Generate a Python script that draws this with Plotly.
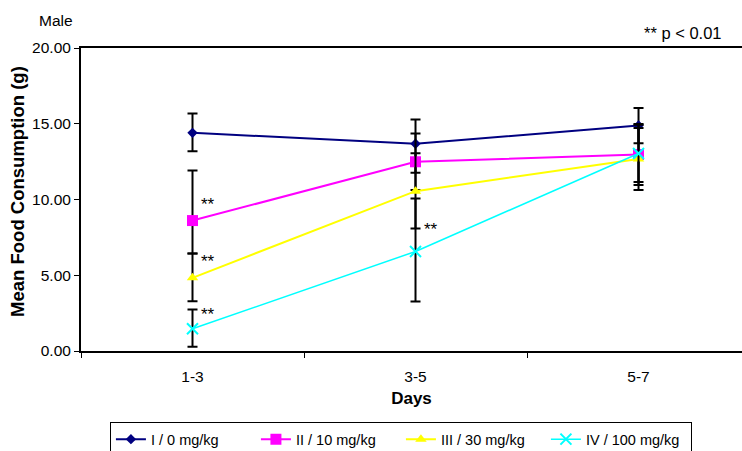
import plotly.graph_objects as go

days = ["1-3", "3-5", "5-7"]
series_names = ["I / 0 mg/kg", "II / 10 mg/kg", "III / 30 mg/kg", "IV / 100 mg/kg"]
g1_mean = [14.40, 13.68, 14.88]
g2_mean = [8.61, 12.49, 12.97]
g3_mean = [4.83, 10.55, 12.67]
g4_mean = [1.47, 6.57, 13.04]
g1_plus = [1.27, 1.60, 1.16]
g1_minus = [1.21, 1.91, 1.16]
g2_plus = [3.30, 1.87, 2.01]
g2_minus = [2.18, 1.87, 2.01]
g3_plus = [1.60, 2.51, 2.05]
g3_minus = [1.55, 2.46, 2.05]
g4_plus = [1.27, 3.50, 1.89]
g4_minus = [1.19, 3.30, 1.89]
sig_marks = [("1-3", 9.80), ("1-3", 6.04), ("1-3", 2.54), ("3-5", 8.15)]
y_ticks = [0, 5, 10, 15, 20]

FONT = "Arial, Liberation Sans, sans-serif"

styles = [
    dict(color="#000080", symbol="diamond", size=8, lw=2),
    dict(color="#FF00FF", symbol="square", size=11, lw=2),
    dict(color="#FFFF00", symbol="triangle-up", size=10, lw=2),
    dict(color="#00FFFF", symbol="x-thin", size=11, lw=1.5),
]
means = [g1_mean, g2_mean, g3_mean, g4_mean]
pluses = [g1_plus, g2_plus, g3_plus, g4_plus]
minuses = [g1_minus, g2_minus, g3_minus, g4_minus]

fig = go.Figure()
for name, m, p, mi, st in zip(series_names, means, pluses, minuses, styles):
    marker = dict(symbol=st["symbol"], size=st["size"], color=st["color"])
    if st["symbol"] == "x-thin":
        marker["line"] = dict(color=st["color"], width=2)
    fig.add_trace(go.Scatter(
        x=days, y=m, name=name, mode="lines+markers",
        line=dict(color=st["color"], width=st["lw"]),
        marker=marker,
        error_y=dict(type="data", symmetric=False, array=p, arrayminus=mi,
                     color="black", thickness=2, width=5),
    ))

for cat, yv in sig_marks:
    fig.add_annotation(x=cat, y=yv, text="**", showarrow=False, xanchor="left",
                       xshift=6, yshift=-2, font=dict(family=FONT, size=17, color="black"))

fig.add_annotation(xref="paper", yref="paper", x=-0.066, y=1.0, yshift=28, text="Male",
                   showarrow=False, xanchor="left", yanchor="middle",
                   font=dict(family=FONT, size=15.5, color="black"))
fig.add_annotation(xref="paper", yref="paper", x=0.9728, y=1.0, yshift=15, text="** p < 0.01",
                   showarrow=False, xanchor="right", yanchor="middle",
                   font=dict(family=FONT, size=16.5, color="black"))
# y-axis title
fig.add_annotation(xref="paper", yref="paper", x=-0.0953, y=0.525,
                   text="<b>Mean Food Consumption (g)</b>", textangle=-90,
                   showarrow=False, xanchor="center", yanchor="middle",
                   font=dict(family=FONT, size=18.5, color="black"))

fig.update_layout(
    width=742, height=451,
    margin=dict(l=81, r=0, t=48, b=100, autoexpand=False),
    paper_bgcolor="white", plot_bgcolor="white",
    font=dict(family=FONT, size=15.5, color="black"),
    showlegend=True,
    legend=dict(orientation="h", x=0.484, xanchor="center", y=-0.235, yanchor="top",
                bordercolor="black", borderwidth=1, font=dict(family=FONT, size=14.5),
                entrywidth=100, entrywidthmode="pixels", tracegroupgap=0),
    xaxis=dict(type="category", categoryorder="array", categoryarray=days,
               range=[-0.5, 2.464], showline=True, linecolor="black", linewidth=2,
               mirror=True, ticks="outside", ticklen=5, tickwidth=1, tickcolor="black",
               tickson="boundaries", showgrid=False, zeroline=False, automargin=False,
               ticklabelstandoff=10, tickfont=dict(size=15.5),
               title=dict(text="<b>Days</b>", font=dict(family=FONT, size=17), standoff=9)),
    yaxis=dict(range=[0, 20], tickvals=y_ticks, tickformat=".2f", showline=True,
               linecolor="black", linewidth=2, ticks="outside", ticklen=5, tickwidth=1,
               tickcolor="black", showgrid=False, zeroline=False, automargin=False,
               tickfont=dict(size=15.5)),
)

fig.write_html("out.html", config={"displayModeBar": False},
               post_script="document.body.style.margin='0';document.body.style.overflow='hidden';")
